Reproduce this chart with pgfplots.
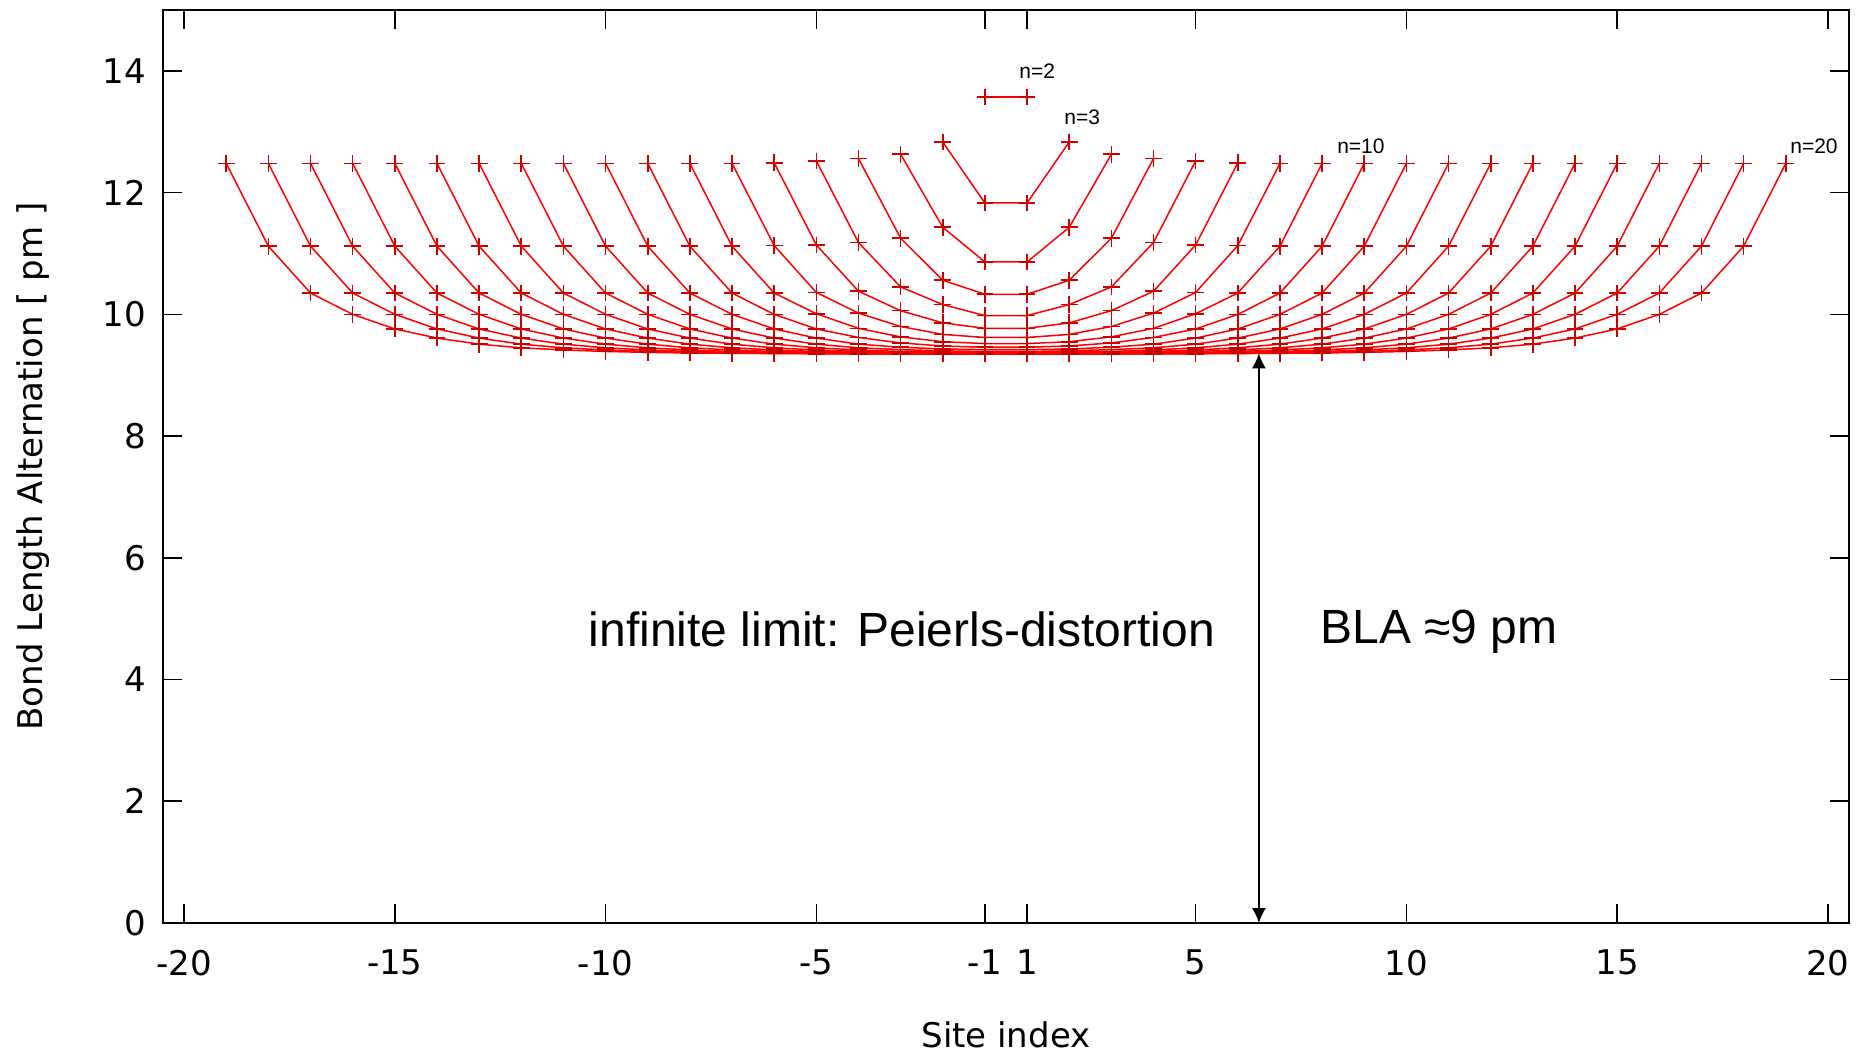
\documentclass[border=0pt]{standalone}
\usepackage{fontspec}
\setmainfont{DejaVu Sans}
\newfontfamily\arialfont{Liberation Sans}
\usepackage{pgfplots}
\pgfplotsset{compat=1.18}
\usetikzlibrary{arrows.meta}
\tikzset{bla/.style={red, line width=0.75pt, mark=+, mark size=4.2pt, mark options={solid, line width=0.8pt, draw=red!80!black}}}
\begin{document}
\begin{tikzpicture}
\begin{axis}[
 at={(0,0)}, anchor=south west,
 scale only axis, width=843pt, height=456.5pt,
 xmin=-20, xmax=20, ymin=0, ymax=15,
 xtick={-19.5,-14.5,-9.5,-4.5,-0.5,0.5,4.5,9.5,14.5,19.5},
 xticklabels={-20,-15,-10,-5,-1,1,5,10,15,20},
 ytick={0,2,4,6,8,10,12,14},
 /pgf/number format/assume math mode=true,
 tick label style={font=\fontsize{17}{20}\selectfont},
 label style={font=\fontsize{17}{20}\selectfont},
 xticklabel style={yshift=-10pt},
 yticklabel style={xshift=-5pt},
 xlabel={Site index},
 ylabel={Bond Length Alternation [ pm ]},
 xlabel style={at={(axis description cs:0.5,-0.1227)}, anchor=center},
 ylabel style={at={(axis description cs:-0.0771,0.5)}, anchor=center},
 major tick length=9.5pt,
 every tick/.style={black, line width=0.8pt},
 axis line style={line width=1pt},
 clip=false,
]
% n=2
\addplot[bla] coordinates {(-0.5,13.57)(0.5,13.57)};
% n=3
\addplot[bla] coordinates {(-1.5,12.83)(-0.5,11.83)(0.5,11.83)(1.5,12.83)};
% n=4
\addplot[bla] coordinates {(-2.5,12.63)(-1.5,11.43)(-0.5,10.86)(0.5,10.86)(1.5,11.43)(2.5,12.63)};
% n=5
\addplot[bla] coordinates {(-3.5,12.56)(-2.5,11.25)(-1.5,10.56)(-0.5,10.33)(0.5,10.33)(1.5,10.56)(2.5,11.25)(3.5,12.56)};
% n=6
\addplot[bla] coordinates {(-4.5,12.52)(-3.5,11.18)(-2.5,10.45)(-1.5,10.16)(-0.5,9.98)(0.5,9.98)(1.5,10.16)(2.5,10.45)(3.5,11.18)(4.5,12.52)};
% n=7
\addplot[bla] coordinates {(-5.5,12.49)(-4.5,11.14)(-3.5,10.38)(-2.5,10.06)(-1.5,9.86)(-0.5,9.77)(0.5,9.77)(1.5,9.86)(2.5,10.06)(3.5,10.38)(4.5,11.14)(5.5,12.49)};
% n=8
\addplot[bla] coordinates {(-6.5,12.48)(-5.5,11.13)(-4.5,10.36)(-3.5,10.02)(-2.5,9.80)(-1.5,9.67)(-0.5,9.62)(0.5,9.62)(1.5,9.67)(2.5,9.80)(3.5,10.02)(4.5,10.36)(5.5,11.13)(6.5,12.48)};
% n=9
\addplot[bla] coordinates {(-7.5,12.48)(-6.5,11.12)(-5.5,10.35)(-4.5,10.01)(-3.5,9.77)(-2.5,9.63)(-1.5,9.55)(-0.5,9.52)(0.5,9.52)(1.5,9.55)(2.5,9.63)(3.5,9.77)(4.5,10.01)(5.5,10.35)(6.5,11.12)(7.5,12.48)};
% n=10
\addplot[bla] coordinates {(-8.5,12.48)(-7.5,11.12)(-6.5,10.35)(-5.5,10.00)(-4.5,9.76)(-3.5,9.62)(-2.5,9.53)(-1.5,9.48)(-0.5,9.46)(0.5,9.46)(1.5,9.48)(2.5,9.53)(3.5,9.62)(4.5,9.76)(5.5,10.00)(6.5,10.35)(7.5,11.12)(8.5,12.48)};
% n=11
\addplot[bla] coordinates {(-9.5,12.48)(-8.5,11.12)(-7.5,10.35)(-6.5,10.00)(-5.5,9.76)(-4.5,9.61)(-3.5,9.51)(-2.5,9.46)(-1.5,9.43)(-0.5,9.42)(0.5,9.42)(1.5,9.43)(2.5,9.46)(3.5,9.51)(4.5,9.61)(5.5,9.76)(6.5,10.00)(7.5,10.35)(8.5,11.12)(9.5,12.48)};
% n=12
\addplot[bla] coordinates {(-10.5,12.48)(-9.5,11.12)(-8.5,10.35)(-7.5,10.00)(-6.5,9.76)(-5.5,9.61)(-4.5,9.51)(-3.5,9.45)(-2.5,9.42)(-1.5,9.40)(-0.5,9.39)(0.5,9.39)(1.5,9.40)(2.5,9.42)(3.5,9.45)(4.5,9.51)(5.5,9.61)(6.5,9.76)(7.5,10.00)(8.5,10.35)(9.5,11.12)(10.5,12.48)};
% n=13
\addplot[bla] coordinates {(-11.5,12.48)(-10.5,11.12)(-9.5,10.35)(-8.5,10.00)(-7.5,9.76)(-6.5,9.61)(-5.5,9.51)(-4.5,9.45)(-3.5,9.415)(-2.5,9.39)(-1.5,9.38)(-0.5,9.375)(0.5,9.375)(1.5,9.38)(2.5,9.39)(3.5,9.415)(4.5,9.45)(5.5,9.51)(6.5,9.61)(7.5,9.76)(8.5,10.00)(9.5,10.35)(10.5,11.12)(11.5,12.48)};
% n=14
\addplot[bla] coordinates {(-12.5,12.48)(-11.5,11.12)(-10.5,10.35)(-9.5,10.00)(-8.5,9.76)(-7.5,9.61)(-6.5,9.51)(-5.5,9.45)(-4.5,9.415)(-3.5,9.39)(-2.5,9.375)(-1.5,9.365)(-0.5,9.36)(0.5,9.36)(1.5,9.365)(2.5,9.375)(3.5,9.39)(4.5,9.415)(5.5,9.45)(6.5,9.51)(7.5,9.61)(8.5,9.76)(9.5,10.00)(10.5,10.35)(11.5,11.12)(12.5,12.48)};
% n=15
\addplot[bla] coordinates {(-13.5,12.48)(-12.5,11.12)(-11.5,10.35)(-10.5,10.00)(-9.5,9.76)(-8.5,9.61)(-7.5,9.51)(-6.5,9.45)(-5.5,9.415)(-4.5,9.39)(-3.5,9.375)(-2.5,9.365)(-1.5,9.36)(-0.5,9.355)(0.5,9.355)(1.5,9.36)(2.5,9.365)(3.5,9.375)(4.5,9.39)(5.5,9.415)(6.5,9.45)(7.5,9.51)(8.5,9.61)(9.5,9.76)(10.5,10.00)(11.5,10.35)(12.5,11.12)(13.5,12.48)};
% n=16
\addplot[bla] coordinates {(-14.5,12.48)(-13.5,11.12)(-12.5,10.35)(-11.5,10.00)(-10.5,9.76)(-9.5,9.61)(-8.5,9.51)(-7.5,9.45)(-6.5,9.415)(-5.5,9.39)(-4.5,9.375)(-3.5,9.365)(-2.5,9.36)(-1.5,9.355)(-0.5,9.352)(0.5,9.352)(1.5,9.355)(2.5,9.36)(3.5,9.365)(4.5,9.375)(5.5,9.39)(6.5,9.415)(7.5,9.45)(8.5,9.51)(9.5,9.61)(10.5,9.76)(11.5,10.00)(12.5,10.35)(13.5,11.12)(14.5,12.48)};
% n=17
\addplot[bla] coordinates {(-15.5,12.48)(-14.5,11.12)(-13.5,10.35)(-12.5,10.00)(-11.5,9.76)(-10.5,9.61)(-9.5,9.51)(-8.5,9.45)(-7.5,9.415)(-6.5,9.39)(-5.5,9.375)(-4.5,9.365)(-3.5,9.36)(-2.5,9.355)(-1.5,9.352)(-0.5,9.35)(0.5,9.35)(1.5,9.352)(2.5,9.355)(3.5,9.36)(4.5,9.365)(5.5,9.375)(6.5,9.39)(7.5,9.415)(8.5,9.45)(9.5,9.51)(10.5,9.61)(11.5,9.76)(12.5,10.00)(13.5,10.35)(14.5,11.12)(15.5,12.48)};
% n=18
\addplot[bla] coordinates {(-16.5,12.48)(-15.5,11.12)(-14.5,10.35)(-13.5,10.00)(-12.5,9.76)(-11.5,9.61)(-10.5,9.51)(-9.5,9.45)(-8.5,9.415)(-7.5,9.39)(-6.5,9.375)(-5.5,9.365)(-4.5,9.36)(-3.5,9.355)(-2.5,9.352)(-1.5,9.35)(-0.5,9.35)(0.5,9.35)(1.5,9.35)(2.5,9.352)(3.5,9.355)(4.5,9.36)(5.5,9.365)(6.5,9.375)(7.5,9.39)(8.5,9.415)(9.5,9.45)(10.5,9.51)(11.5,9.61)(12.5,9.76)(13.5,10.00)(14.5,10.35)(15.5,11.12)(16.5,12.48)};
% n=19
\addplot[bla] coordinates {(-17.5,12.48)(-16.5,11.12)(-15.5,10.35)(-14.5,10.00)(-13.5,9.76)(-12.5,9.61)(-11.5,9.51)(-10.5,9.45)(-9.5,9.415)(-8.5,9.39)(-7.5,9.375)(-6.5,9.365)(-5.5,9.36)(-4.5,9.355)(-3.5,9.352)(-2.5,9.35)(-1.5,9.35)(-0.5,9.35)(0.5,9.35)(1.5,9.35)(2.5,9.35)(3.5,9.352)(4.5,9.355)(5.5,9.36)(6.5,9.365)(7.5,9.375)(8.5,9.39)(9.5,9.415)(10.5,9.45)(11.5,9.51)(12.5,9.61)(13.5,9.76)(14.5,10.00)(15.5,10.35)(16.5,11.12)(17.5,12.48)};
% n=20
\addplot[bla] coordinates {(-18.5,12.48)(-17.5,11.12)(-16.5,10.35)(-15.5,10.00)(-14.5,9.76)(-13.5,9.61)(-12.5,9.51)(-11.5,9.45)(-10.5,9.415)(-9.5,9.39)(-8.5,9.375)(-7.5,9.365)(-6.5,9.36)(-5.5,9.355)(-4.5,9.352)(-3.5,9.35)(-2.5,9.35)(-1.5,9.35)(-0.5,9.35)(0.5,9.35)(1.5,9.35)(2.5,9.35)(3.5,9.35)(4.5,9.352)(5.5,9.355)(6.5,9.36)(7.5,9.365)(8.5,9.375)(9.5,9.39)(10.5,9.415)(11.5,9.45)(12.5,9.51)(13.5,9.61)(14.5,9.76)(15.5,10.00)(16.5,10.35)(17.5,11.12)(18.5,12.48)};

\draw[{Latex[length=7.5pt,width=7pt]}-{Latex[length=7.5pt,width=7pt]}, line width=0.8pt, black] (axis cs:6,0) -- (axis cs:6,9.36);
\node[font={\arialfont\fontsize{24}{28}\selectfont}] at (axis cs:-2.47,4.83) {infinite limit: Peierls-distortion};
\node[font={\arialfont\fontsize{24}{28}\selectfont}] at (axis cs:10.27,4.78) {BLA ≈9 pm};
\node[font={\arialfont\fontsize{10.5}{12}\selectfont}] at (axis cs:0.74,13.99) {n=2};
\node[font={\arialfont\fontsize{10.5}{12}\selectfont}] at (axis cs:1.81,13.24) {n=3};
\node[font={\arialfont\fontsize{10.5}{12}\selectfont}] at (axis cs:8.42,12.76) {n=10};
\node[font={\arialfont\fontsize{10.5}{12}\selectfont}] at (axis cs:19.17,12.76) {n=20};
\end{axis}
\pgfresetboundingbox
\path[use as bounding box] (-81.5pt,-67pt) rectangle (853pt,461.5pt);
\end{tikzpicture}
\end{document}
